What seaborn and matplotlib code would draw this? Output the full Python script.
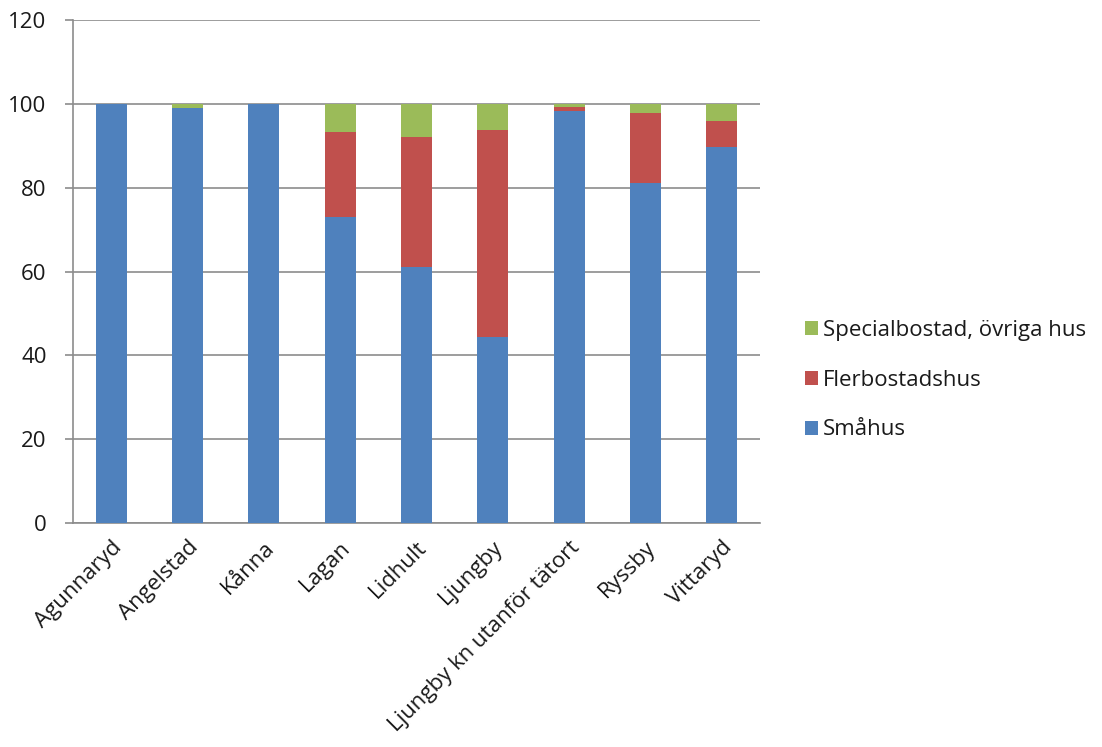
import matplotlib
matplotlib.use("Agg")
import matplotlib.pyplot as plt
import seaborn as sns
import numpy as np
import pandas as pd
from matplotlib.patches import Patch

categories = ["Agunnaryd", "Angelstad", "Kånna", "Lagan", "Lidhult", "Ljungby",
              "Ljungby kn utanför tätort", "Ryssby", "Vittaryd"]
smahus = [100.0, 99.0, 100.0, 73.0, 61.0, 44.4, 98.2, 81.1, 89.6]
flerbostad = [0.0, 0.0, 0.0, 20.2, 31.0, 49.3, 1.0, 16.6, 6.2]
special = [0.0, 1.0, 0.0, 6.8, 8.0, 6.3, 0.8, 2.3, 4.2]
series_names = ["Småhus", "Flerbostadshus", "Specialbostad, övriga hus"]
colors = ["#4F81BD", "#C0504D", "#9BBB59"]
yticks = [0, 20, 40, 60, 80, 100, 120]

sns.set_theme(style="white")
plt.rcParams['font.family'] = ['Open Sans', 'DejaVu Sans']
FS = 16

s1 = np.array(smahus)
s2 = s1 + np.array(flerbostad)
s3 = s2 + np.array(special)
df = pd.DataFrame({"cat": categories, "s1": s1, "s2": s2, "s3": s3})

fig = plt.figure(figsize=(11.02, 7.47), dpi=100)
ax = fig.add_axes([73/1102, 1 - 523/747, (760-73)/1102, (523-20)/747])

for col, c in zip(["s3", "s2", "s1"], colors[::-1]):
    sns.barplot(data=df, x="cat", y=col, color=c, width=0.41, ax=ax,
                saturation=1, zorder=3, edgecolor="none", linewidth=0)

ax.set_ylim(0, 120)
ax.set_xlim(-0.5, len(categories) - 0.5)
ax.set_yticks(yticks)
ax.set_yticklabels([str(v) for v in yticks], fontsize=FS)
ax.set_xlabel("")
ax.set_ylabel("")
ax.yaxis.grid(True, color="#8c8c8c", linewidth=1.2, zorder=0)
ax.set_axisbelow(True)
for s in ["top", "right"]:
    ax.spines[s].set_visible(False)
for s in ["left", "bottom"]:
    ax.spines[s].set_color("#8c8c8c")
    ax.spines[s].set_linewidth(1.2)

# category tick labels, ticks at boundaries
ax.set_xticks(np.arange(len(categories)))
ax.set_xticklabels(categories, rotation=45, ha="right", rotation_mode="anchor",
                   fontsize=FS)
ax.tick_params(axis="x", which="major", length=0, pad=10)
ax.set_xticks(np.arange(len(categories) + 1) - 0.5, minor=True)
ax.tick_params(axis="x", which="minor", length=6, color="#8c8c8c", width=1.2)
ax.tick_params(axis="y", length=6, color="#8c8c8c", width=1.2, left=True, pad=13)
for lbl in ax.get_xticklabels() + ax.get_yticklabels():
    lbl.set_color("#1a1a1a")

handles = [Patch(facecolor=c, edgecolor="none") for c in colors]
leg = fig.legend(handles[::-1], series_names[::-1], loc="center left",
                 bbox_to_anchor=(796/1102, 1 - 380/747), frameon=False,
                 fontsize=FS, handlelength=0.6, handleheight=0.6,
                 handletextpad=0.2, labelspacing=1.3, borderaxespad=0)
for t in leg.get_texts():
    t.set_color("#1a1a1a")

fig.savefig("out.png", dpi=100)
